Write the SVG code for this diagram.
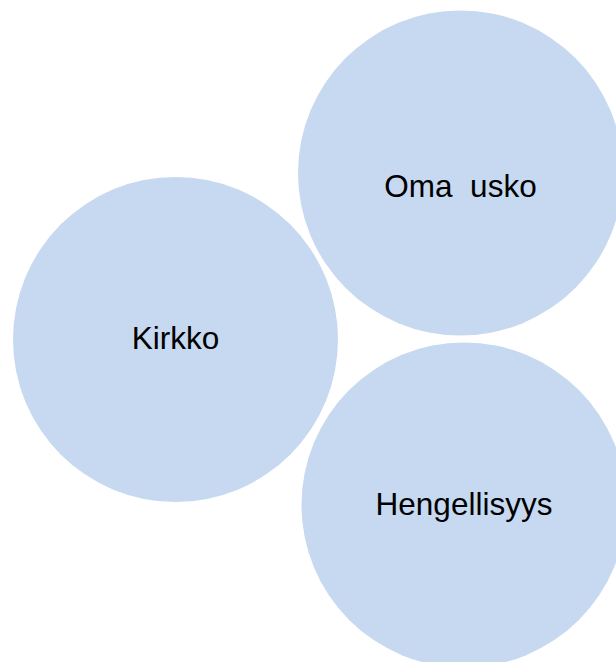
<svg xmlns="http://www.w3.org/2000/svg" width="616" height="662" viewBox="0 0 616 662">
<style>
.c{fill:#C6D9F1;}
.t{font-family:"Liberation Sans",Arial,sans-serif;font-size:31.5px;fill:#000;text-anchor:middle;white-space:pre;}
</style>
<rect width="616" height="662" fill="#fff"/>
<g id="connectors"></g>
<g id="oma-usko"><circle class="c" cx="460.5" cy="173" r="162.5"/><text class="t" x="460.5" y="197" xml:space="preserve">Oma  usko</text></g>
<g id="kirkko"><circle class="c" cx="175.5" cy="339.5" r="162.5"/><text class="t" x="175.5" y="349">Kirkko</text></g>
<g id="hengellisyys"><circle class="c" cx="464" cy="505" r="162.5"/><text class="t" x="464" y="515">Hengellisyys</text></g>
</svg>
